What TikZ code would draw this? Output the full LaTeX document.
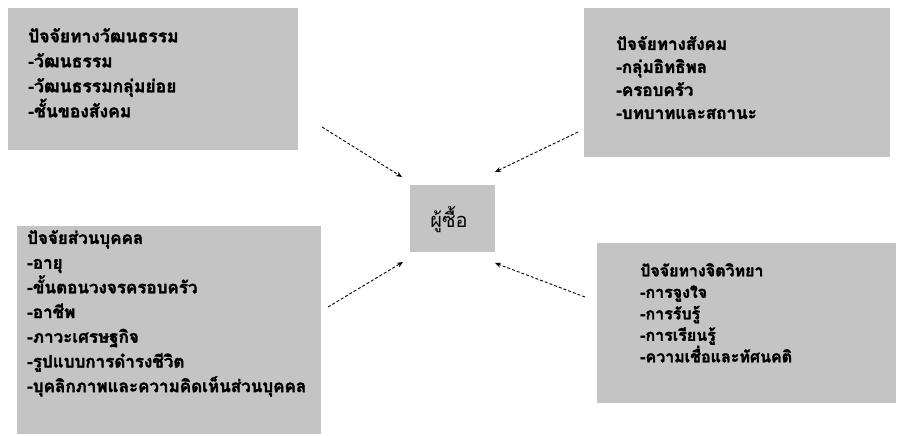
\documentclass[tikz,border=0pt]{standalone}
\usepackage{fontspec}
\newfontfamily\thai[Script=Thai, BoldFeatures={FakeBold=2}]{Loma}
\usetikzlibrary{arrows.meta}
\definecolor{panelgray}{RGB}{196,196,196}
\begin{document}
\begin{tikzpicture}[x=1pt, y=-1pt,
  panel/.style={fill=panelgray, draw=none, inner sep=0pt, anchor=north west},
  list/.style={font=\thai\bfseries\fontsize{17.5}{25}\selectfont, align=left,
    anchor=north west, inner sep=0pt},
  link/.style={densely dashed, line width=0.9pt, -{Stealth[length=6pt,width=5pt]}}]
\useasboundingbox (0,0) rectangle (897,436);

% shaded panels
\node[panel, minimum width=290pt, minimum height=142pt] (cult) at (8,8) {};
\node[panel, minimum width=306pt, minimum height=149pt] (soc) at (584,8) {};
\node[panel, minimum width=304pt, minimum height=208pt] (pers) at (17,226) {};
\node[panel, minimum width=299pt, minimum height=160pt] (psy) at (597,243) {};
\node[panel, minimum width=85pt, minimum height=67pt] (buyer) at (410,185) {};

% panel texts
\node[list] (cultT) at (28,28) {ปัจจัยทางวัฒนธรรม\\-วัฒนธรรม\\-วัฒนธรรมกลุ่มย่อย\\-ชั้นของสังคม};
\node[list, font=\thai\bfseries\fontsize{17}{23}\selectfont] (socT) at (616,36)
  {ปัจจัยทางสังคม\\-กลุ่มอิทธิพล\\-ครอบครัว\\-บทบาทและสถานะ};
\node[list, font=\thai\bfseries\fontsize{17}{24.7}\selectfont] (persT) at (27,230)
  {ปัจจัยส่วนบุคคล\\-อายุ\\-ขั้นตอนวงจรครอบครัว\\-อาชีพ\\-ภาวะเศรษฐกิจ\\-รูปแบบการดำรงชีวิต\\-บุคลิกภาพและความคิดเห็นส่วนบุคคล};
\node[list, font=\thai\bfseries\fontsize{16}{21.5}\selectfont] (psyT) at (640,263)
  {ปัจจัยทางจิตวิทยา\\-การจูงใจ\\-การรับรู้\\-การเรียนรู้\\-ความเชื่อและทัศนคติ};
\node[font=\thai\fontsize{20}{24}\selectfont, inner sep=0pt] (buyerT) at (449,220) {ผู้ซื้อ};

% arrows pointing at the buyer
\coordinate (a1s) at (322,127); \coordinate (a1e) at (402,177);
\coordinate (a2s) at (578,132); \coordinate (a2e) at (495,172);
\coordinate (a3s) at (328,307); \coordinate (a3e) at (403,262);
\coordinate (a4s) at (585,297); \coordinate (a4e) at (495,263);
\draw[link] (a1s) -- (a1e);
\draw[link] (a2s) -- (a2e);
\draw[link] (a3s) -- (a3e);
\draw[link] (a4s) -- (a4e);
\end{tikzpicture}
\end{document}
